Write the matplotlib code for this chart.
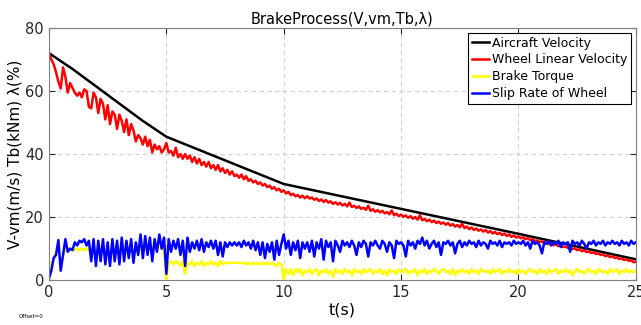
import numpy as np
import matplotlib
matplotlib.use('Agg')
from matplotlib import pyplot as plt

# 시간축 (0.1 s 간격)
t = np.round(np.arange(0, 25.01, 0.1), 2)

# Aircraft Velocity (매끄러운 곡선 -> 꺾은점만)
t_air = [0, 1, 2, 3, 4, 5, 10, 15, 20, 25]
v_air = [72, 67, 61.5, 56, 50.5, 45.5, 30.5, 22.6, 14.7, 6.6]

# Wheel Linear Velocity
v_wheel = [
    72, 70, 68.5, 66, 63, 60.8, 67.5, 64.5, 59.5, 62.5,
    61, 59.5, 58.5, 59.5, 58, 60.5, 60, 55, 54.5, 59.5,
    58, 53, 57.5, 56, 51, 55.5, 49.5, 53.5, 52.5, 48,
    52.5, 50.5, 47, 51, 46, 49.5, 47.5, 44, 46, 45,
    43, 45.5, 42.5, 44.5, 40.5, 43, 41.5, 42.5, 40.5, 41.5,
    43.5, 40.5, 41, 39.5, 42, 39, 40, 38.5, 40, 38.5,
    39.5, 37.5, 39, 37, 38.5, 36.5, 37.5, 36, 37.5, 35.5,
    36.5, 35, 36.5, 34.5, 35.5, 34, 35, 33.5, 34.5, 33,
    33.5, 32.5, 33.5, 32, 33, 31.5, 32, 31, 31.5, 30.5,
    31, 30, 30.5, 29.5, 30, 29, 29.5, 28.5, 29, 28,
    28.5, 27.5, 28.0, 27.0, 27.4, 26.6, 27.0, 26.2, 26.8, 26.0,
    26.6, 25.9, 26.2, 25.5, 25.9, 25.1, 25.6, 24.8, 25.4, 24.6,
    25.0, 24.2, 24.7, 24.0, 24.5, 23.7, 24.2, 23.4, 24.6, 23.2,
    23.6, 22.9, 23.4, 22.6, 23.0, 22.3, 23.6, 22.0, 22.5, 21.7,
    22.2, 21.5, 22.0, 21.2, 21.6, 20.9, 22.1, 20.6, 21.1, 20.3,
    20.8, 20.1, 20.5, 19.8, 20.3, 19.5, 20.0, 19.2, 20.6, 19.0,
    19.4, 18.7, 19.2, 18.4, 18.9, 18.1, 18.6, 17.9, 18.3, 17.6,
    18.1, 17.3, 17.8, 17.0, 17.5, 16.8, 17.9, 16.5, 17.0, 16.2,
    16.7, 15.9, 16.4, 15.7, 16.1, 15.4, 15.9, 15.1, 15.6, 14.8,
    15.3, 14.6, 15.0, 14.3, 14.8, 14.0, 14.5, 13.7, 14.2, 13.5,
    13.9, 13.3, 13.6, 13.0, 13.3, 12.7, 13.0, 12.4, 12.6, 12.1,
    12.3, 11.8, 12.0, 11.4, 11.7, 11.1, 11.4, 10.8, 11.0, 10.5,
    10.7, 10.2, 10.4, 9.9, 10.1, 9.5, 9.8, 9.2, 9.5, 8.9,
    9.1, 8.6, 8.8, 8.3, 8.5, 8.0, 8.2, 7.6, 7.9, 7.3,
    7.6, 7.0, 7.2, 6.7, 6.9, 6.4, 6.6, 6.1, 6.3, 5.7,
    5.8,
]

# Brake Torque
tb = [
    2.5, 5, 7, 9, 10, 5, 8, 9.5, 10, 10,
    10, 9.5, 10, 9.5, 10, 9.5, 10, 9.5, 9, 10,
    8.5, 9.5, 9, 10, 9, 9.5, 9, 10, 9.5, 10,
    9, 10, 9.5, 10, 9.5, 10, 9, 10, 9.5, 10,
    9.5, 10, 9.5, 10, 9.5, 10, 10, 10.5, 10, 10,
    0, 5.5, 6, 5, 6, 5.5, 4.5, 6, 2, 5.5,
    5, 6, 4.5, 5.5, 5, 6, 4.5, 5.5, 5, 6,
    5, 5.5, 4.5, 6, 5, 5.5, 5.5, 5.5, 5.5, 5.5,
    5.5, 5.5, 5.5, 5.5, 5, 5.5, 5, 5.5, 5, 5.5,
    5, 5.5, 5, 5.5, 5, 5.5, 5, 4.5, 5.5, 5,
    0, 3.5, 2, 3.5, 1.5, 3.5, 2.5, 3.5, 1.5, 3,
    2.5, 3.5, 2, 3, 3.5, 1.5, 3, 2.5, 3.5, 2,
    3, 1, 3.5, 2.5, 3, 2, 3.5, 2.5, 3, 1.5,
    3.5, 2.5, 3, 2, 3.5, 2.5, 3, 3.5, 2, 3,
    2.5, 3.5, 2, 3, 1.5, 3.5, 2.5, 3, 2, 3.5,
    2.5, 3, 3.5, 2, 3, 2.5, 3.5, 1.5, 3, 2.5,
    3.5, 2, 3, 2.5, 3.5, 3, 2, 3, 3.5, 2.5,
    3, 2, 3.5, 1.5, 3, 2.5, 3.5, 2.5, 3, 2,
    3.5, 2.5, 3, 2, 3.5, 3, 2.5, 3, 2, 3.5,
    2.5, 3, 3.5, 2, 3, 2.5, 3.5, 2.5, 3, 2,
    3.5, 2.5, 3, 2, 3, 3.5, 2.5, 3, 2, 3.5,
    2.5, 3, 2, 3.5, 2.5, 3, 3.5, 2, 3, 2.5,
    3.5, 2.5, 3, 1.5, 3, 3.5, 2.5, 3, 2, 3,
    3.5, 2.5, 3, 2, 3.5, 3, 2.5, 3, 2, 3.5,
    2.5, 3, 3.5, 2, 3, 2.5, 3.5, 2.5, 3, 2.5,
    3,
]

# Slip Rate of Wheel
slip = [
    0.5, 3, 7, 8, 12.7, 3, 8, 13, 9, 10,
    9.5, 12, 11, 12.5, 12, 13, 11, 12.5, 6, 13,
    4.5, 12.5, 6, 13, 5, 12, 4.5, 13, 6, 12.5,
    5, 13.5, 6, 12.5, 7, 13, 5.5, 12, 8, 14.5,
    7, 14, 8, 13.5, 6, 13, 9, 14.5, 10, 13.5,
    2, 13, 9, 12.5, 10, 13, 8, 12.5, 4.5, 13.5,
    9, 12, 10, 12.5, 9.5, 13, 9, 12, 10.5, 12.5,
    10, 12.5, 8, 12, 7.5, 12, 10.5, 12, 11, 12,
    11, 12, 10.5, 12.5, 11, 12, 10, 12.5, 9.5, 12,
    8, 12, 7, 11.5, 9, 12, 6.5, 12.5, 8, 11.5,
    14.5, 10, 12.5, 8, 12, 9.5, 12.5, 7, 12, 10,
    12, 9, 12.5, 7.5, 12, 10, 13, 6.5, 12.5, 10.5,
    12, 6, 12.5, 11, 9, 12.5, 11, 12, 10.5, 12.5,
    11, 8, 12, 10.5, 12.5, 11.5, 7.5, 12, 11, 12.5,
    11, 10, 12.5, 11.5, 9, 12, 11, 7, 12.5, 11.5,
    12, 11, 7.5, 12.5, 11, 12, 10, 12.5, 11.5, 13.5,
    11, 12.5, 10, 11.5, 12.5, 10.5, 12, 8, 12, 11.5,
    12.5, 11, 12, 8.5, 11.5, 12.5, 10.5, 12, 11, 12.5,
    11.5, 12, 10.5, 12.5, 11, 12, 11.5, 10, 12.5, 11.5,
    12, 11, 12.5, 10.5, 12, 11.5, 12, 11, 12.5, 11.5,
    12, 11.5, 12.5, 11, 12, 10, 12.5, 11.5, 12, 11,
    8.5, 12, 11.5, 12.5, 11, 12, 11.5, 12.5, 10.5, 12,
    11.5, 12, 9, 12.5, 11.5, 12, 11, 12.5, 11.5, 10,
    12, 11.5, 12.5, 11, 12, 11.5, 12.5, 11, 12, 11.5,
    12.5, 11.5, 12, 11, 12.5, 11.5, 12, 11, 12.5, 11.5,
    12,
]

x_ticks = [0, 5, 10, 15, 20, 25]
y_ticks = [0, 20, 40, 60, 80]

fig = plt.figure(figsize=(6.41, 3.25), dpi=100)
ax = fig.add_axes([0.0764, 0.138, 0.9156, 0.776])

lw = 1.8
ax.plot(t_air, v_air, color='black', lw=lw, label='Aircraft Velocity')
ax.plot(t, v_wheel, color='red', lw=lw, label='Wheel Linear Velocity')
ax.plot(t, tb, color='yellow', lw=lw, label='Brake Torque')
ax.plot(t, slip, color='blue', lw=lw, label='Slip Rate of Wheel')

ax.set_xlim(0, 25)
ax.set_ylim(0, 80)
ax.set_xticks(x_ticks)
ax.set_yticks(y_ticks)
ax.grid(True, linestyle=(0, (4, 3)), color='#d0d0d0', lw=0.8)
ax.tick_params(direction='in', top=True, right=True, labelsize=10.5,
               colors='#262626', length=4)
for s in ax.spines.values():
    s.set_color('#808080')

ax.set_title('BrakeProcess(V,vm,Tb,λ)', fontsize=10.5, pad=3)
ax.set_xlabel('t(s)', fontsize=11.5, labelpad=2)
ax.set_ylabel('V-vm(m/s) Tb(kNm) λ(%)', fontsize=11, labelpad=2)

leg = ax.legend(loc='upper right', fontsize=9, fancybox=False, edgecolor='black',
                framealpha=1, borderaxespad=0.4, labelspacing=0.3,
                handlelength=1.4, handletextpad=0.2, borderpad=0.3)
leg.get_frame().set_linewidth(0.8)

fig.text(0.03, 0.02, 'Offset=0', fontsize=4)

plt.savefig('out.png', dpi=100)
